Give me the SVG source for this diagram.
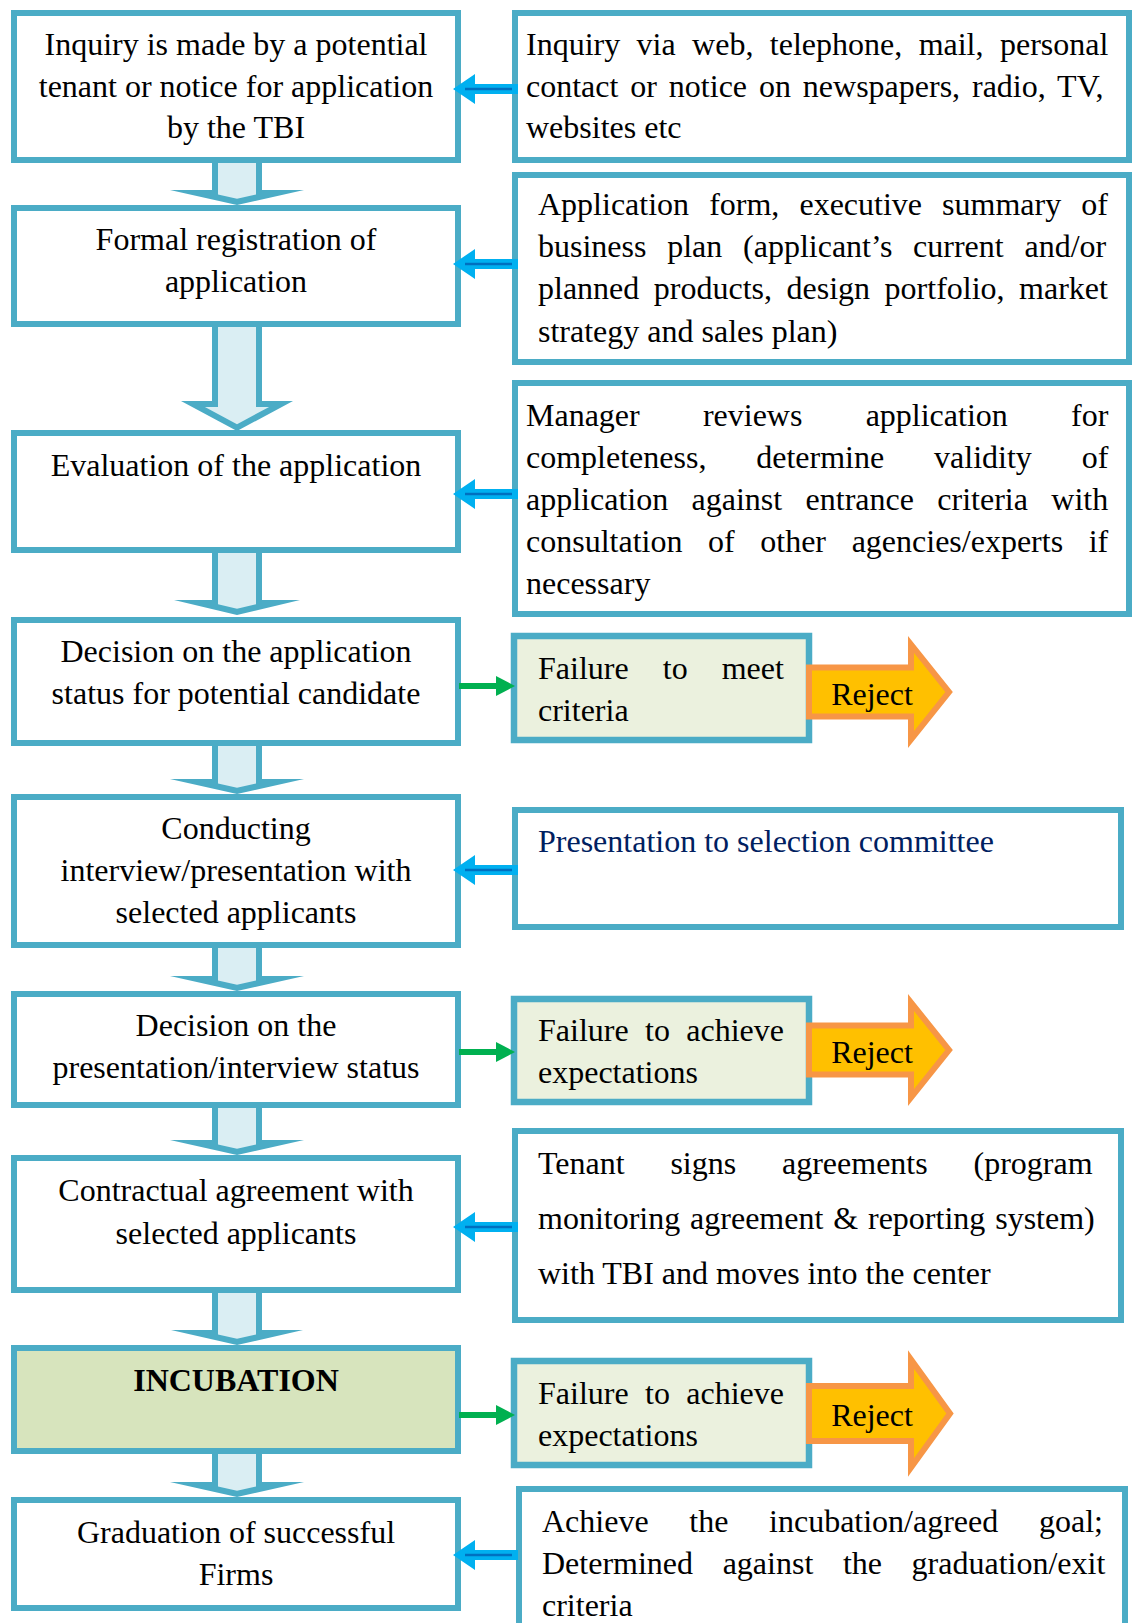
<svg xmlns="http://www.w3.org/2000/svg" width="1134" height="1623" viewBox="0 0 1134 1623">
  <style>
    .box{fill:#ffffff;stroke:#4BACC6;stroke-width:6}
    .fail{fill:#EBF1DE;stroke:#4BACC6;stroke-width:6.5}
    .inc{fill:#D7E4BD;stroke:#4BACC6;stroke-width:6}
    .dOut{fill:#4BACC6}
    .dIn{fill:#DAEEF3}
    .rej{fill:#FFC000;stroke:#F79646;stroke-width:6;stroke-linejoin:miter;stroke-miterlimit:6}
    .cyan{fill:#00B0F0}
    .cyanLine{stroke:#0070C0;stroke-width:2.5}
    .grn{fill:#00B050}
    .grnLine{stroke:#00B050;stroke-width:6}
    text{font-family:"Liberation Serif","Times New Roman",serif;font-size:32px;fill:#000000}
    .c{text-anchor:middle}
    .navy{fill:#002060}
    .bold{font-weight:bold}
  </style>
  <defs>
    <!-- side feed arrow pointing left, origin at its tip -->
    <g id="feed">
      <polygon class="cyan" points="0,0 22,-15 22,-5 65,-5 65,5 22,5 22,15"/>
      <line class="cyanLine" x1="12" y1="0" x2="59" y2="0"/>
    </g>
    <!-- green pointer to the failure boxes, origin at its tail -->
    <g id="toFail">
      <line class="grnLine" x1="0" y1="0" x2="39" y2="0"/>
      <polygon class="grn" points="37,-10 56,0 37,10"/>
    </g>
  </defs>

  <!-- main process column -->
  <g id="n-inquiry">
    <rect class="box" x="14" y="13" width="444" height="147"/>
    <text class="c" x="236" y="55">Inquiry is made by a potential</text>
    <text class="c" x="236" y="97">tenant or notice for application</text>
    <text class="c" x="236" y="138">by the TBI</text>
  </g>
  <g id="n-registration">
    <rect class="box" x="14" y="208" width="444" height="116"/>
    <text class="c" x="236" y="250">Formal registration of</text>
    <text class="c" x="236" y="292">application</text>
  </g>
  <g id="n-evaluation">
    <rect class="box" x="14" y="433" width="444" height="117"/>
    <text class="c" x="236" y="476">Evaluation of the application</text>
  </g>
  <g id="n-decision1">
    <rect class="box" x="14" y="620" width="444" height="123"/>
    <text class="c" x="236" y="662">Decision on the application</text>
    <text class="c" x="236" y="704">status for potential candidate</text>
  </g>
  <g id="n-interview">
    <rect class="box" x="14" y="797" width="444" height="148"/>
    <text class="c" x="236" y="839">Conducting</text>
    <text class="c" x="236" y="881">interview/presentation with</text>
    <text class="c" x="236" y="923">selected applicants</text>
  </g>
  <g id="n-decision2">
    <rect class="box" x="14" y="994" width="444" height="111"/>
    <text class="c" x="236" y="1036">Decision on the</text>
    <text class="c" x="236" y="1078">presentation/interview status</text>
  </g>
  <g id="n-contract">
    <rect class="box" x="14" y="1158" width="444" height="132"/>
    <text class="c" x="236" y="1201">Contractual agreement with</text>
    <text class="c" x="236" y="1244">selected applicants</text>
  </g>
  <g id="n-incubation">
    <rect class="inc" x="14" y="1348" width="444" height="103"/>
    <text class="c bold" x="236" y="1391">INCUBATION</text>
  </g>
  <g id="n-graduation">
    <rect class="box" x="14" y="1500" width="444" height="108"/>
    <text class="c" x="236" y="1543">Graduation of successful</text>
    <text class="c" x="236" y="1585">Firms</text>
  </g>

  <!-- explanatory column -->
  <g id="n-inquiry-channels">
    <rect class="box" x="515" y="13" width="614" height="147"/>
    <text x="526" y="55" word-spacing="8.41">Inquiry via web, telephone, mail, personal</text>
    <text x="526" y="97" word-spacing="3.9">contact or notice on newspapers, radio, TV,</text>
    <text x="526" y="138">websites etc</text>
  </g>
  <g id="n-application-docs">
    <rect class="box" x="515" y="175" width="614" height="187"/>
    <text x="538" y="215" word-spacing="12.08">Application form, executive summary of</text>
    <text x="538" y="257" word-spacing="12.75">business plan (applicant’s current and/or</text>
    <text x="538" y="299" word-spacing="6.52">planned products, design portfolio, market</text>
    <text x="538" y="342">strategy and sales plan)</text>
  </g>
  <g id="n-review">
    <rect class="box" x="515" y="383" width="614" height="231"/>
    <text x="526" y="426" word-spacing="55.2">Manager reviews application for</text>
    <text x="526" y="468" word-spacing="41.86">completeness, determine validity of</text>
    <text x="526" y="510" word-spacing="15.4">application against entrance criteria with</text>
    <text x="526" y="552" word-spacing="17.6">consultation of other agencies/experts if</text>
    <text x="526" y="594">necessary</text>
  </g>
  <g id="n-fail-criteria">
    <rect class="fail" x="514" y="636" width="295" height="104"/>
    <text x="538" y="679" word-spacing="26.1">Failure to meet</text>
    <text x="538" y="721">criteria</text>
  </g>
  <g id="n-presentation">
    <rect class="box" x="515" y="810" width="606" height="117"/>
    <text class="navy" x="538" y="852">Presentation to selection committee</text>
  </g>
  <g id="n-fail-expect1">
    <rect class="fail" x="514" y="999" width="295" height="103"/>
    <text x="538" y="1041" word-spacing="8.36">Failure to achieve</text>
    <text x="538" y="1083">expectations</text>
  </g>
  <g id="n-agreements">
    <rect class="box" x="515" y="1131" width="606" height="189"/>
    <text x="538" y="1174" word-spacing="37.8">Tenant signs agreements (program</text>
    <text x="538" y="1229" word-spacing="1.88">monitoring agreement &amp; reporting system)</text>
    <text x="538" y="1284">with TBI and moves into the center</text>
  </g>
  <g id="n-fail-expect2">
    <rect class="fail" x="514" y="1361" width="295" height="104"/>
    <text x="538" y="1404" word-spacing="8.36">Failure to achieve</text>
    <text x="538" y="1446">expectations</text>
  </g>
  <g id="n-exit">
    <rect class="box" x="519" y="1489" width="606" height="200"/>
    <text x="542" y="1532" word-spacing="32.67">Achieve the incubation/agreed goal;</text>
    <text x="542" y="1574" word-spacing="21.6">Determined against the graduation/exit</text>
    <text x="542" y="1616">criteria</text>
  </g>

  <!-- reject outcomes -->
  <g id="n-reject1">
    <polygon class="rej" points="809,667.5 911,667.5 911,644.5 949,692 911,739.5 911,716.5 809,716.5"/>
    <text class="c" x="872" y="705">Reject</text>
  </g>
  <g id="n-reject2">
    <polygon class="rej" points="809,1025.5 911,1025.5 911,1002.5 949,1050 911,1097.5 911,1074.5 809,1074.5"/>
    <text class="c" x="872" y="1063">Reject</text>
  </g>
  <g id="n-reject3">
    <polygon class="rej" points="809,1386 911,1386 911,1359.5 950,1413.5 911,1467.5 911,1441 809,1441"/>
    <text class="c" x="872" y="1426">Reject</text>
  </g>

  <!-- connectors -->
  <g id="connectors">
    <!-- block arrows down the main column: outline shape, then light interior -->
    <polygon class="dOut" points="212,163 262,163 262,190 304,190 237,205 170,190 212,190"/>
    <polygon class="dIn" points="218,163 256,163 256,194.5 237,198.8 218,194.5"/>

    <polygon class="dOut" points="212,327 262,327 262,401 293,401 237,431 181,401 212,401"/>
    <polygon class="dIn" points="218,327 256,327 256,407 269.1,407 237,424.2 204.9,407 218,407"/>

    <polygon class="dOut" points="212,553 262,553 262,600 300,600 237,615 174,600 212,600"/>
    <polygon class="dIn" points="218,553 256,553 256,604.3 237,608.8 218,604.3"/>

    <polygon class="dOut" points="212,746 262,746 262,779 304,779 237,794 170,779 212,779"/>
    <polygon class="dIn" points="218,746 256,746 256,783.5 237,787.8 218,783.5"/>

    <polygon class="dOut" points="212,948 262,948 262,976 304,976 237,991 170,976 212,976"/>
    <polygon class="dIn" points="218,948 256,948 256,980.5 237,984.8 218,980.5"/>

    <polygon class="dOut" points="212,1108 262,1108 262,1140 304,1140 237,1155 170,1140 212,1140"/>
    <polygon class="dIn" points="218,1108 256,1108 256,1144.5 237,1148.8 218,1144.5"/>

    <polygon class="dOut" points="212,1293 262,1293 262,1330 303,1330 237,1345 171,1330 212,1330"/>
    <polygon class="dIn" points="218,1293 256,1293 256,1334.5 237,1338.8 218,1334.5"/>

    <polygon class="dOut" points="212,1454 262,1454 262,1482 304,1482 237,1497 170,1482 212,1482"/>
    <polygon class="dIn" points="218,1454 256,1454 256,1486.5 237,1490.8 218,1486.5"/>

    <!-- inputs feeding each step -->
    <use href="#feed" transform="translate(453,89)"/>
    <use href="#feed" transform="translate(453,264)"/>
    <use href="#feed" transform="translate(453,494)"/>
    <use href="#feed" transform="translate(453,870)"/>
    <use href="#feed" transform="translate(453,1227)"/>
    <use href="#feed" transform="translate(453,1555)"/>

    <!-- failure branches -->
    <use href="#toFail" transform="translate(459,686)"/>
    <use href="#toFail" transform="translate(459,1052)"/>
    <use href="#toFail" transform="translate(459,1415)"/>
  </g>
</svg>
